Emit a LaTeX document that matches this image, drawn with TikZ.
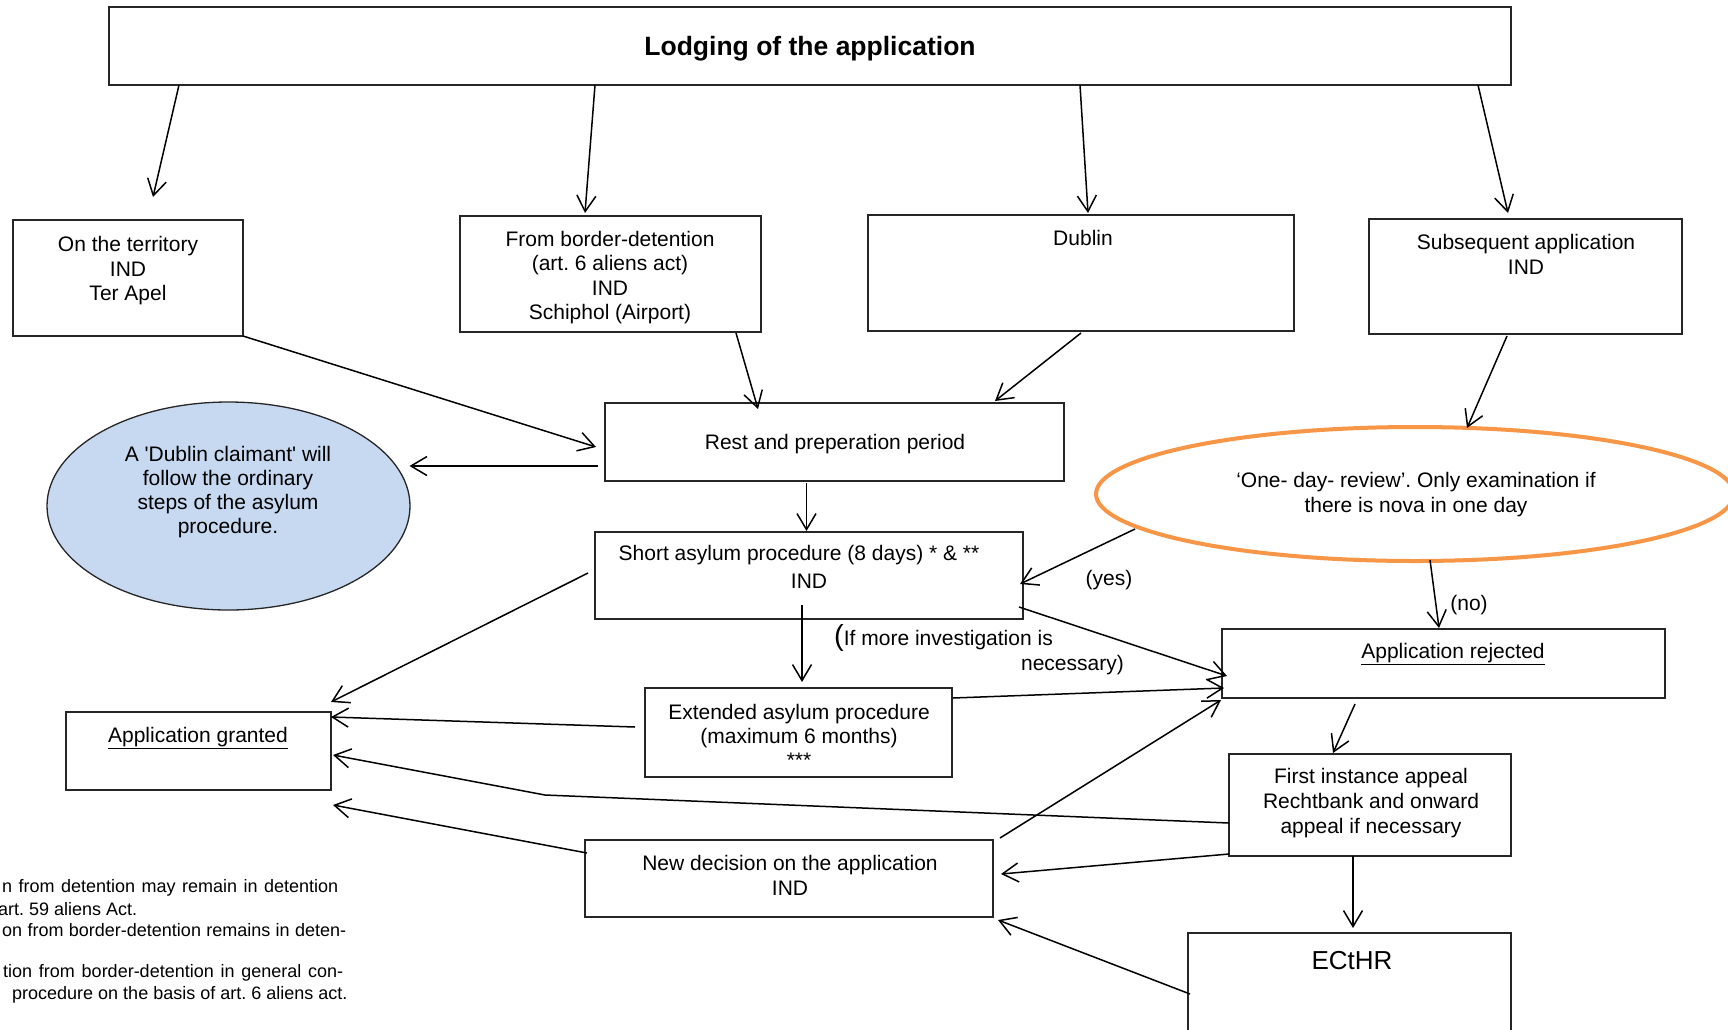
\documentclass[tikz,border=0pt]{standalone}
\usepackage{fontspec}
\setmainfont{Liberation Sans}
\usetikzlibrary{arrows.meta,shapes.geometric,calc}
\definecolor{blueFill}{HTML}{C6D9F1}
\definecolor{orangeLine}{HTML}{F79646}
\frenchspacing
\begin{document}
\begin{tikzpicture}[x=1pt,y=-1pt,
  box/.style={draw=black!85, line width=1.3pt, rectangle, inner sep=0pt, outer sep=0pt},
  txt/.style={align=center, inner sep=0pt, font=\fontsize{21}{24.5}\selectfont},
  foot/.style={anchor=west, inner sep=0pt, font=\fontsize{18}{21}\selectfont},
  conn/.style={draw=black, line width=1.5pt, -{Straight Barb[length=16pt,width=19pt]}},
  plain/.style={draw=black, line width=1.5pt}]
\useasboundingbox (0,0) rectangle (1728,1029);
\clip (0,0) rectangle (1728,1029);
\fill[white] (0,0) rectangle (1728,1029);

% boxes
\node[box, minimum width=1402pt, minimum height=78pt] (top) at (810,46) {};
\node[box, minimum width=230pt, minimum height=116pt] (terr) at (128,278) {};
\node[box, minimum width=301pt, minimum height=116pt] (border) at (610.5,274) {};
\node[box, minimum width=426pt, minimum height=116pt] (dublin) at (1081,273) {};
\node[box, minimum width=313pt, minimum height=115pt] (subs) at (1525.5,276.5) {};
\node[box, minimum width=459pt, minimum height=78pt] (rest) at (834.5,442) {};
\node[box, minimum width=428pt, minimum height=87pt] (short) at (809,575.5) {};
\node[box, minimum width=307pt, minimum height=89pt] (ext) at (798.5,732.5) {};
\node[box, minimum width=265pt, minimum height=78pt] (granted) at (198.5,751) {};
\node[box, minimum width=443pt, minimum height=69pt] (rejected) at (1443.5,663.5) {};
\node[box, minimum width=282pt, minimum height=102pt] (fi) at (1370,805) {};
\node[box, minimum width=408pt, minimum height=77pt] (newdec) at (789,878.5) {};
\node[box, minimum width=323pt, minimum height=126pt] (ecthr) at (1349.5,996) {};

% ellipses
\node[draw=black!85, line width=1.3pt, fill=blueFill, ellipse, inner sep=0pt,
      minimum width=363pt, minimum height=208pt] (blue) at (228.5,506) {};
\node[draw=orangeLine, line width=4pt, ellipse, inner sep=0pt,
      minimum width=638pt, minimum height=134pt] (orange) at (1415,494) {};

% texts
\node[inner sep=0pt, font=\fontsize{26.5}{30}\selectfont\bfseries] (toptxt) at (810,49) {Lodging of the application};
\node[txt] (terrtxt) at (128,271) {On the territory\\IND\\Ter Apel};
\node[txt, font=\fontsize{21}{24.3}\selectfont] (bordertxt) at (610,277.5) {From border-detention\\(art. 6 aliens act)\\IND\\Schiphol (Airport)};
\node[txt] (dublintxt) at (1083,238) {Dublin};
\node[txt] (substxt) at (1526,254.5) {Subsequent application\\IND};
\node[txt] (resttxt) at (835,444) {Rest and preperation period};
\node[txt, font=\fontsize{21}{24}\selectfont] (bluetxt) at (228,492.5) {A \textquotesingle Dublin claimant\textquotesingle{} will\\follow the ordinary\\steps of the asylum\\procedure.};
\node[txt] (orangetxt) at (1416,494.5) {‘One- day- review’. Only examination if\\there is nova in one day};
\node[txt] (shorttxt) at (799,555) {Short asylum procedure (8 days) * \& **};
\node[txt] (shortind) at (809,581) {IND};
\node[txt] (yes) at (1109,580) {(yes)};
\node[txt] (no) at (1469,605) {(no)};
\node[txt, anchor=west] (invtxt) at (834,638) {{\fontsize{29}{29}\selectfont(}If more investigation is};
\node[txt, anchor=east] (necTxt) at (1124,665) {necessary)};
\node[txt] (rejtxt) at (1453,654) {\underline{Application rejected}};
\node[txt] (granttxt) at (198,738) {\underline{Application granted}};
\node[txt, font=\fontsize{21}{24}\selectfont] (exttxt) at (799,736) {Extended asylum procedure\\(maximum 6 months)\\***};
\node[txt, font=\fontsize{21}{25}\selectfont] (fitxt) at (1371,803) {First instance appeal\\Rechtbank and onward\\appeal if necessary};
\node[txt, font=\fontsize{21}{25}\selectfont] (newtxt) at (790,875.5) {New decision on the application\\IND};
\node[inner sep=0pt, font=\fontsize{26}{30}\selectfont] (ecthrtxt) at (1352,961) {ECtHR};

% footnotes (cut at the left edge)
\node[foot] (f1) at (2,888) {\makebox[336pt][s]{n from detention may remain in detention}};
\node[foot] (f2) at (-2,909) {art. 59 aliens Act.};
\node[foot] (f3) at (2,930) {\makebox[344pt][s]{on from border-detention remains in deten-}};
\node[foot] (f4) at (3,973) {\makebox[340pt][s]{tion from border-detention in general con-}};
\node[foot] (f5) at (12,995) {procedure on the basis of art. 6 aliens act.};

% connectors
\draw[conn] ($(top.south west)+(70,0)$) -- ($(terr.north west)+(140,-23)$);
\draw[conn] ($(top.south west)+(486,0)$) -- ($(border.north west)+(125,-3)$);
\draw[conn] ($(top.south west)+(971,0)$) -- ($(dublin.north west)+(220,-2)$);
\draw[conn] ($(top.south west)+(1369,0)$) -- ($(subs.north west)+(139,-6)$);
\draw[conn] (terr.south east) -- ($(rest.west)+(-9,5)$);
\draw[conn] ($(border.south west)+(276,1)$) -- ($(rest.north west)+(153,6)$);
\draw[conn] ($(dublin.south west)+(213,2)$) -- ($(rest.north west)+(390,-2)$);
\draw[conn] ($(subs.south west)+(138,2)$) -- ($(orange.center)+(52,-66)$);
\draw[conn] ($(rest.west)+(-7,24)$) -- ($(blue.center)+(181,-40)$);
\draw[conn] ($(rest.south west)+(201.5,2)$) -- ($(short.north west)+(211.5,-1)$);
\draw[conn] ($(orange.center)+(-280,35)$) -- ($(short.north east)+(-3,52)$);
\draw[conn] ($(orange.center)+(15,66)$) -- ($(rejected.north west)+(217,-1)$);
\draw[conn] ($(short.south east)+(-4,-12)$) -- ($(rejected.north west)+(5,47)$);
\draw[conn] ($(short.south west)+(207,-14)$) -- ($(ext.north west)+(157,-6)$);
\draw[conn] ($(short.north west)+(-7,41)$) -- ($(granted.north east)+(0,-10)$);
\draw[conn] ($(ext.north west)+(-10,39)$) -- ($(granted.north east)+(0,5)$);
\draw[conn] ($(ext.north east)+(1,10)$) -- ($(rejected.north west)+(2,59)$);
\draw[conn] ($(rejected.south west)+(133,6)$) -- ($(fi.north west)+(104,-1)$);
\coordinate (bend) at (545,795);
\draw[conn] ($(fi.north west)+(0,69)$) -- (bend) -- ($(granted.north east)+(2,43)$);
\draw[conn] ($(fi.south west)+(0,-2)$) -- ($(newdec.north east)+(8,34)$);
\draw[conn] ($(fi.south west)+(124,0)$) -- ($(ecthr.north west)+(165,-5)$);
\draw[conn] ($(newdec.north west)+(2,13)$) -- ($(granted.south east)+(2,15)$);
\draw[conn] ($(newdec.north east)+(7,-2)$) -- ($(rejected.south west)+(-1,2)$);
\draw[conn] ($(ecthr.north west)+(2,61)$) -- ($(newdec.south east)+(5,3)$);
\end{tikzpicture}
\end{document}
